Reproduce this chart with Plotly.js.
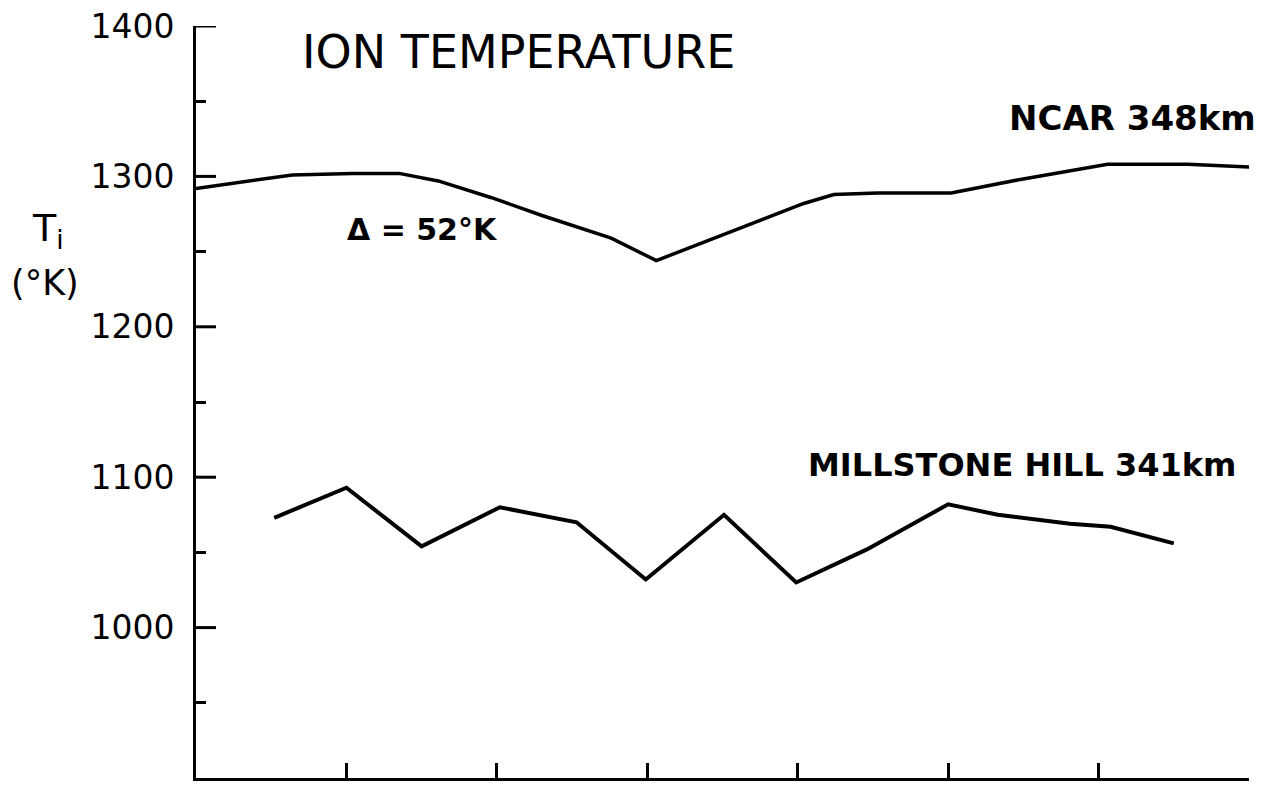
<!DOCTYPE html>
<html>
<head>
<meta charset="utf-8">
<script src="https://cdn.plot.ly/plotly-3.0.1.min.js"></script>
<style>
  html, body { margin: 0; padding: 0; background: #fff; }
  #chart { width: 1266px; height: 789px; }
</style>
</head>
<body>
<div id="chart"></div>
<script>
// Data
const ncarX = [0, 0.64, 1.04, 1.35, 1.61, 1.96, 2.30, 2.76, 3.06, 3.58, 4.04, 4.24, 4.53, 5.02, 5.48, 6.06, 6.59, 7.04];
const ncarT = [1292, 1301, 1302, 1302, 1297, 1286, 1274, 1259, 1244, 1264, 1282, 1288, 1289, 1289, 1298, 1308, 1308, 1306];

const millX = [0.52, 1.0, 1.5, 2.02, 2.53, 2.99, 3.51, 3.99, 4.46, 5.0, 5.33, 5.81, 6.08, 6.5];
const millT = [1073, 1093, 1054, 1080, 1070, 1032, 1075, 1030, 1052, 1082, 1075, 1069, 1067, 1056];

const xTicks = [1, 2, 3, 4, 5, 6, 7];
const yTicks = [1000, 1100, 1200, 1300, 1400];
const yTickText = ["1000", "1100", "1200", "1300", "1400"];
const yMinor = [950, 1050, 1150, 1250, 1350];

const titleText = "ION TEMPERATURE";
const ncarLabel = "NCAR 348km";
const millLabel = "MILLSTONE HILL 341km";
const deltaLabel = "Δ = 52°K";
const yLabel1 = "T<sub>i</sub>";
const yLabel2 = "(°K)";

const FONT = "DejaVu Sans, Liberation Sans, sans-serif";
const Y_RANGE = [900, 1400];
const X_RANGE = [0, 7];
const PLOT_W = 1266 - 196 - 17;
const MAJOR_LEN_PX = 20;

// long tick marks: a line trace built from the tick values, length expressed in x units
const majorLen = MAJOR_LEN_PX / PLOT_W * (X_RANGE[1] - X_RANGE[0]);
const majorTickX = [];
const majorTickY = [];
yTicks.forEach(v => { majorTickX.push(X_RANGE[0], X_RANGE[0] + majorLen, null); majorTickY.push(v, v, null); });

const traces = [
  { x: ncarX, y: ncarT, mode: "lines", type: "scatter", name: ncarLabel,
    line: { color: "#000", width: 3.5 }, cliponaxis: false, hoverinfo: "skip" },
  { x: millX, y: millT, mode: "lines", type: "scatter", name: millLabel,
    line: { color: "#000", width: 4 }, cliponaxis: false, hoverinfo: "skip" },
  { x: majorTickX, y: majorTickY, mode: "lines", type: "scatter", name: "major ticks",
    line: { color: "#000", width: 3 }, cliponaxis: false, connectgaps: false, hoverinfo: "skip" },
  // empty trace so the overlay axis carrying the short ticks is drawn
  { x: [], y: [], mode: "lines", type: "scatter", yaxis: "y2", hoverinfo: "skip", showlegend: false }
];

const layout = {
  width: 1266, height: 789,
  paper_bgcolor: "#fff", plot_bgcolor: "#fff",
  margin: { l: 196, r: 17, t: 26, b: 11 },
  showlegend: false,
  font: { family: FONT, color: "#000" },
  xaxis: {
    range: X_RANGE, showgrid: false, zeroline: false,
    showline: true, linecolor: "#000", linewidth: 3,
    ticks: "inside", ticklen: 15, tickwidth: 3, tickcolor: "#000",
    tickvals: xTicks, showticklabels: false
  },
  yaxis: {
    range: Y_RANGE, showgrid: false, zeroline: false,
    showline: true, linecolor: "#000", linewidth: 3,
    ticks: "",
    tickvals: yTicks, ticktext: yTickText,
    tickfont: { family: FONT, size: 33, color: "#000" },
    ticklabelstandoff: 12
  },
  yaxis2: {
    overlaying: "y", side: "left", range: Y_RANGE, anchor: "x",
    showgrid: false, zeroline: false, showline: false,
    ticks: "inside", ticklen: 10, tickwidth: 3, tickcolor: "#000",
    tickmode: "array", tickvals: yMinor, showticklabels: false
  },
  annotations: [
    { text: titleText, xref: "paper", yref: "paper", x: (300 - 196) / 1053, y: (778 - 52) / 752,
      xanchor: "left", yanchor: "middle", showarrow: false,
      font: { family: FONT, size: 46, color: "#000" } },
    { text: "<b>" + ncarLabel + "</b>", xref: "paper", yref: "paper", x: (1258 - 196) / 1053, y: (778 - 118) / 752,
      xanchor: "right", yanchor: "middle", showarrow: false,
      font: { family: FONT, size: 34, color: "#000" } },
    { text: "<b>" + millLabel + "</b>", xref: "paper", yref: "paper", x: (1238 - 196) / 1053, y: (778 - 465) / 752,
      xanchor: "right", yanchor: "middle", showarrow: false,
      font: { family: FONT, size: 32, color: "#000" } },
    { text: "<b>" + deltaLabel + "</b>", xref: "paper", yref: "paper", x: (345 - 196) / 1053, y: (778 - 229) / 752,
      xanchor: "left", yanchor: "middle", showarrow: false,
      font: { family: FONT, size: 30, color: "#000" } },
    { text: yLabel1, xref: "paper", yref: "paper", x: (48 - 196) / 1053, y: (778 - 230) / 752,
      xanchor: "center", yanchor: "middle", showarrow: false,
      font: { family: FONT, size: 38, color: "#000" } },
    { text: yLabel2, xref: "paper", yref: "paper", x: (45 - 196) / 1053, y: (778 - 283) / 752,
      xanchor: "center", yanchor: "middle", showarrow: false,
      font: { family: FONT, size: 35, color: "#000" } }
  ]
};

Plotly.newPlot("chart", traces, layout, { staticPlot: true, displayModeBar: false });
</script>
</body>
</html>
